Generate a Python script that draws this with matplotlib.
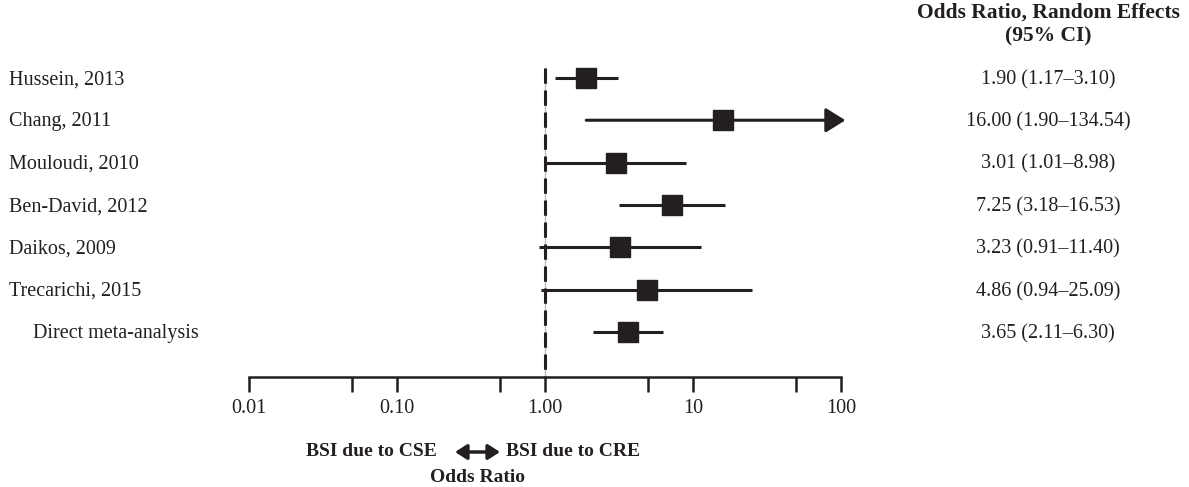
import matplotlib.pyplot as plt
import matplotlib.transforms as mtransforms
from matplotlib.patches import FancyArrowPatch

studies = ['Hussein, 2013', 'Chang, 2011', 'Mouloudi, 2010', 'Ben-David, 2012',
           'Daikos, 2009', 'Trecarichi, 2015', 'Direct meta-analysis']
odds = [1.90, 16.00, 3.01, 7.25, 3.23, 4.86, 3.65]
ci_low = [1.17, 1.90, 1.01, 3.18, 0.91, 0.94, 2.11]
ci_high = [3.10, 134.54, 8.98, 16.53, 11.40, 25.09, 6.30]
ci_text = ['1.90 (1.17\u20133.10)', '16.00 (1.90\u2013134.54)', '3.01 (1.01\u20138.98)',
           '7.25 (3.18\u201316.53)', '3.23 (0.91\u201311.40)', '4.86 (0.94\u201325.09)',
           '3.65 (2.11\u20136.30)']
ticks = [0.01, 0.1, 1, 10, 100]
tick_labels = ['0.01', '0.10', '1.00', '10', '100']
minor_ticks = [0.05, 0.5, 5, 50]

ink = '#231f20'
fs = 14.5
plt.rcParams['font.family'] = ['Liberation Serif', 'DejaVu Serif']

fig = plt.figure(figsize=(11.89, 4.87), dpi=100)
ax = fig.add_axes([249 / 1189, 1 - 377 / 487, 592 / 1189, (377 - 55) / 487])
ax.set_xscale('log')
ax.set_xlim(0.01, 100)
ax.set_ylim(7.06, -0.54)

# reference line at 1
ax.plot([1, 1], [-0.24, 7.06], color='#bdbdbd', lw=1, zorder=1)
ax.plot([1, 1], [-0.24, 7.06], color=ink, lw=2.2, dashes=(5, 2.2), zorder=2)

for i in range(len(studies)):
    hi = ci_high[i]
    if hi > 100:
        ax.annotate('', xy=(107, i), xytext=(ci_low[i], i),
                    arrowprops=dict(arrowstyle='-|>,head_length=1.2,head_width=0.75',
                                    lw=2.2, color=ink, shrinkA=0, shrinkB=0),
                    annotation_clip=False, zorder=3)
    else:
        ax.plot([ci_low[i], hi], [i, i], color=ink, lw=2.2, zorder=3, solid_capstyle='butt')
    ax.plot(odds[i], i, marker='s', ms=14, color=ink, zorder=4)

# left labels and right column
trans = mtransforms.blended_transform_factory(fig.transFigure, ax.transData)
for i, name in enumerate(studies):
    x = 33 / 1189 if name.startswith('Direct') else 9 / 1189
    ax.text(x, i + 0.04, name, transform=trans, ha='left', va='center', fontsize=fs, color=ink)
    ax.text(1048 / 1189, i + 0.04, ci_text[i], transform=trans, ha='center', va='center',
            fontsize=fs, color=ink)

fig.text(1048 / 1189, 1 - 13 / 487, 'Odds Ratio, Random Effects', ha='center',
         va='center', fontsize=15.5, fontweight='bold', color=ink)
fig.text(1048 / 1189, 1 - 36 / 487, '(95% CI)', ha='center',
         va='center', fontsize=15.5, fontweight='bold', color=ink)

# axis styling
for s in ['top', 'left', 'right']:
    ax.spines[s].set_visible(False)
ax.spines['bottom'].set_linewidth(1.8)
ax.spines['bottom'].set_color(ink)
ax.set_yticks([])
ax.set_xticks(ticks)
ax.set_xticklabels(tick_labels, fontsize=fs, color=ink)
ax.set_xticks(minor_ticks, minor=True)
ax.tick_params(axis='x', which='both', length=11, width=1.8, color=ink, pad=5)
ax.tick_params(axis='x', which='minor', labelbottom=False)

# bottom legend
fig.text(437 / 1189, 1 - 452 / 487, 'BSI due to CSE', ha='right', va='center',
         fontsize=14, fontweight='bold', color=ink)
fig.text(506 / 1189, 1 - 452 / 487, 'BSI due to CRE', ha='left', va='center',
         fontsize=14, fontweight='bold', color=ink)
fig.text(478 / 1189, 1 - 477 / 487, 'Odds Ratio', ha='center', va='center',
         fontsize=14, fontweight='bold', color=ink)
fig.add_artist(FancyArrowPatch(
    (455 / 1189, 1 - 452 / 487), (500 / 1189, 1 - 452 / 487), transform=fig.transFigure,
    arrowstyle='<|-|>,head_length=7,head_width=4.5', lw=2.5, color=ink,
    shrinkA=0, shrinkB=0))

fig.savefig('out.png', dpi=100)
